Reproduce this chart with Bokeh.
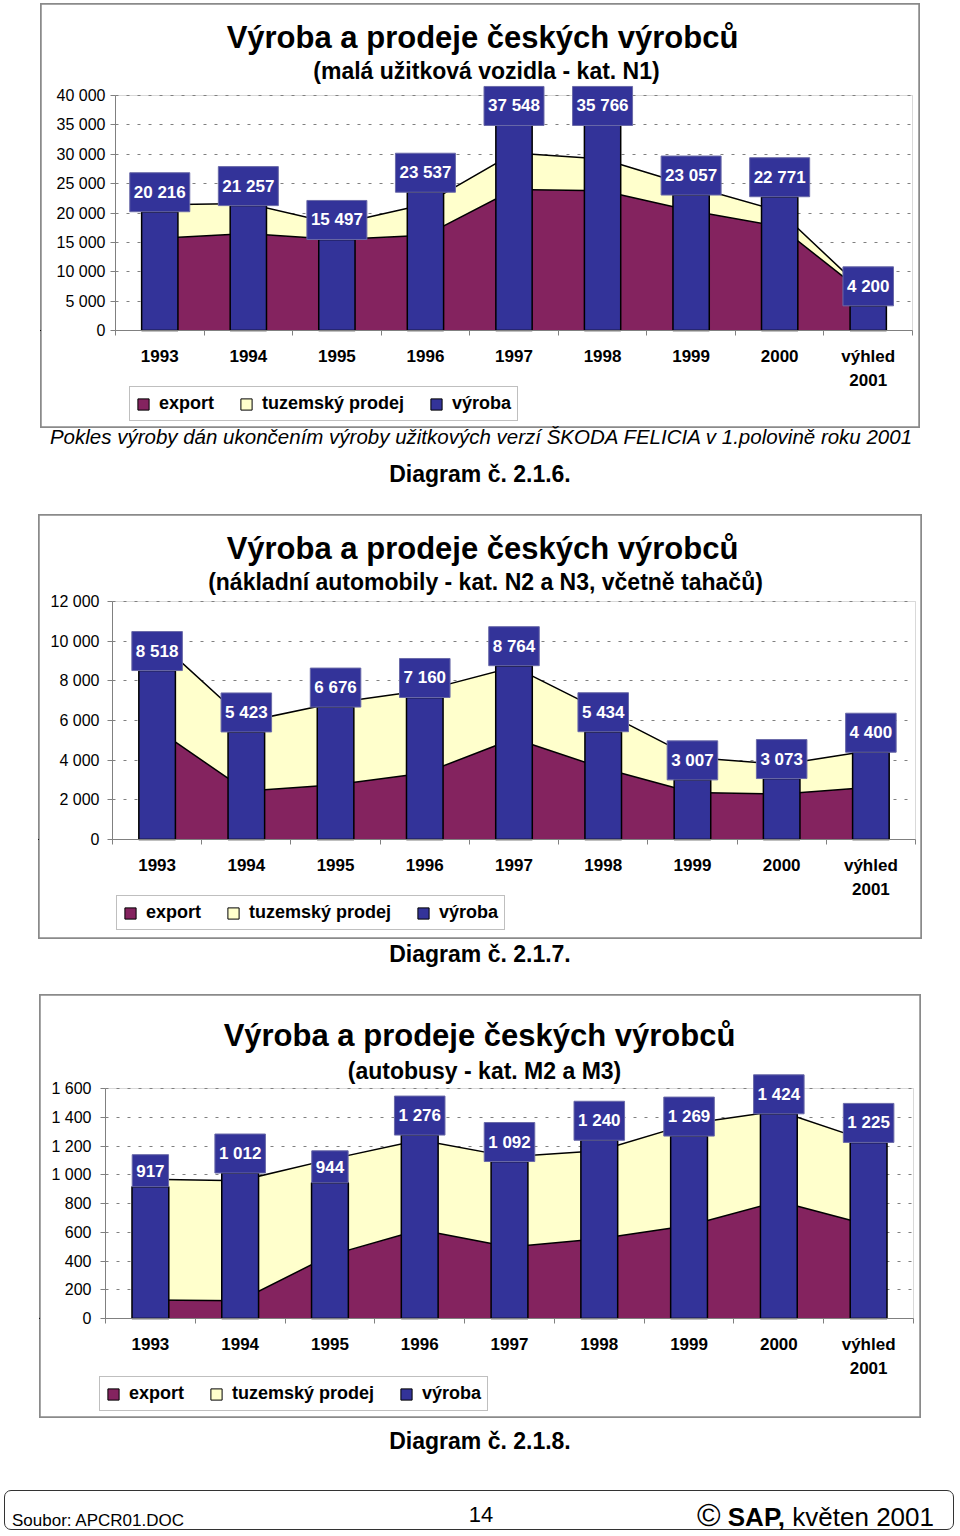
from bokeh.plotting import figure
from bokeh.models import (Range1d, FixedTicker, Label, Legend, LegendItem, Div, Spacer,
                          BoxAnnotation)
from bokeh.layouts import column, row
from bokeh.core.properties import value
from bokeh.embed import file_html
from bokeh.resources import INLINE

# ---------------- data ----------------
categories = ["1993", "1994", "1995", "1996", "1997", "1998", "1999", "2000", "výhled\n2001"]

n1_vyroba = [20216, 21257, 15497, 23537, 37548, 35766, 23057, 22771, 4200]
n1_export = [15700, 16500, 15500, 16200, 24000, 23800, 20400, 17700, 5800]
n1_tuzemsky = [5700, 5100, 2600, 5300, 6200, 5400, 4200, 2600, 300]
n1_ticks = [0, 5000, 10000, 15000, 20000, 25000, 30000, 35000, 40000]
n1_tick_labels = ["0", "5 000", "10 000", "15 000", "20 000", "25 000", "30 000", "35 000", "40 000"]

n23_vyroba = [8518, 5423, 6676, 7160, 8764, 5434, 3007, 3073, 4400]
n23_export = [5550, 2450, 2760, 3350, 5090, 3590, 2370, 2290, 2640]
n23_tuzemsky = [4500, 3500, 4140, 4170, 3610, 2860, 1770, 1490, 1850]
n23_ticks = [0, 2000, 4000, 6000, 8000, 10000, 12000]
n23_tick_labels = ["0", "2 000", "4 000", "6 000", "8 000", "10 000", "12 000"]

m23_vyroba = [917, 1012, 944, 1276, 1092, 1240, 1269, 1424, 1225]
m23_export = [128, 124, 439, 618, 497, 555, 647, 816, 650]
m23_tuzemsky = [841, 835, 668, 624, 629, 612, 707, 628, 584]
m23_ticks = [0, 200, 400, 600, 800, 1000, 1200, 1400, 1600]
m23_tick_labels = ["0", "200", "400", "600", "800", "1 000", "1 200", "1 400", "1 600"]

legend_labels = ["export", "tuzemský prodej", "výroba"]
main_title = "Výroba a prodeje českých výrobců"
subtitles = ["(malá užitková vozidla - kat. N1)",
             "(nákladní automobily - kat. N2 a N3, včetně tahačů)",
             "(autobusy - kat. M2 a M3)"]
note_text = "Pokles výroby dán ukončením výroby užitkových verzí ŠKODA FELICIA v 1.polovině roku 2001"
diagram_texts = ["Diagram č. 2.1.6.", "Diagram č. 2.1.7.", "Diagram č. 2.1.8."]

# ---------------- style ----------------
FONT = "Liberation Sans"
C_BAR = "#333399"
C_EXPORT = "#84235f"
C_DOM = "#ffffcc"
C_GRID = "#808080"


def fmt(v):
    return f"{v:,}".replace(",", " ")


def make_chart(cfg):
    bx, by, bw, bh = cfg["box"]          # chart box on the page
    fl, ft, fr, fb = cfg["frame"]        # plot area on the page
    n = len(categories)
    ymax = cfg["ticks"][-1]
    ux = (fr - fl) / n                   # px per category
    uy = (fb - ft) / ymax                # px per unit
    x_range = Range1d(-0.5 - (fl - bx) / ux, n - 0.5 + (bx + bw - fr) / ux)
    y_range = Range1d(-(by + bh - fb) / uy, ymax + (ft - by) / uy)

    p = figure(width=bw, height=bh, output_backend="svg", toolbar_location=None,
               x_range=x_range, y_range=y_range, min_border=0,
               background_fill_color="white", border_fill_color="white")
    p.outline_line_color = "#8a8a8a"
    p.outline_line_width = 2.5

    xs = list(range(n))
    export = cfg["export"]
    total = [a + b for a, b in zip(cfg["export"], cfg["dom"])]
    prod = cfg["prod"]

    # plot-area border
    p.add_layout(BoxAnnotation(left=-0.5, right=n - 0.5, bottom=0, top=ymax, fill_color=None,
                               line_color=C_GRID, line_width=1, level="underlay"))

    p.varea(x=xs, y1=[0] * n, y2=export, fill_color=C_EXPORT)
    p.varea(x=xs, y1=export, y2=total, fill_color=C_DOM)
    p.line(x=xs, y=export, line_color="black", line_width=1.5)
    p.line(x=xs, y=total, line_color="black", line_width=1.5)
    p.vbar(x=xs, top=prod, width=0.41, fill_color=C_BAR, line_color="black", line_width=1.5)

    cap = cfg.get("label_cap")
    base = [min(v, cap) if cap else v for v in prod]
    p.text(x=xs, y=base, text=[fmt(v) for v in prod], anchor="bottom_center",
           padding=(4, 10), background_fill_color=C_BAR, border_line_color="#6a6aa8",
           border_line_width=1, text_color="white", text_font=value(FONT),
           text_font_size="17px", text_font_style="bold")

    # axes placed at the plot-area edges
    xa = p.xaxis[0]
    xa.fixed_location = 0
    xa.bounds = (-0.5, n - 0.5)
    xa.ticker = FixedTicker(ticks=xs, minor_ticks=[x - 0.5 for x in xs] + [n - 0.5])
    xa.major_label_overrides = {x: c for x, c in zip(xs, categories)}
    xa.major_tick_line_color = None
    xa.major_tick_out = 0
    xa.minor_tick_out = 5
    xa.minor_tick_in = 0
    xa.minor_tick_line_color = C_GRID
    xa.axis_line_color = C_GRID
    xa.major_label_text_font = FONT
    xa.major_label_text_font_size = "17px"
    xa.major_label_text_font_style = "bold"
    xa.major_label_text_color = "black"
    xa.major_label_text_line_height = 1.3
    xa.major_label_standoff = 11

    ya = p.yaxis[0]
    ya.fixed_location = -0.5
    ya.bounds = (0, ymax)
    ya.ticker = FixedTicker(ticks=cfg["ticks"])
    ya.major_label_overrides = {t: l for t, l in zip(cfg["ticks"], cfg["tick_labels"])}
    ya.minor_tick_line_color = None
    ya.major_tick_out = 5
    ya.major_tick_in = 0
    ya.major_tick_line_color = C_GRID
    ya.axis_line_color = C_GRID
    ya.major_label_text_font = FONT
    ya.major_label_text_font_size = "16px"
    ya.major_label_text_color = "black"
    ya.major_label_standoff = cfg["ystand"]

    p.xgrid.visible = False
    g = p.ygrid[0]
    g.grid_line_color = C_GRID
    g.grid_line_dash = "3 8"
    g.grid_line_width = 1
    try:
        g.cross_bounds = (-0.5, n - 0.5)
    except Exception:
        g.visible = False
        gt = cfg["ticks"][1:-1]
        p.segment(x0=[-0.5] * len(gt), x1=[n - 0.5] * len(gt), y0=gt, y1=gt,
                  line_color=C_GRID, line_dash="3 8", line_width=1, level="underlay")

    # titles (screen units relative to the frame, which is the whole chart box)
    def put(px, py, text, size):
        p.add_layout(Label(x=px - bx, y=by + bh - py, x_units="screen", y_units="screen", text=text,
                           text_align="center", text_baseline="middle", text_font=FONT,
                           text_font_size=f"{size}px", text_font_style="bold", text_color="black"))
    tx, ty = cfg["title_at"]
    put(tx, ty, main_title, 31)
    sx, sy = cfg["sub_at"]
    put(sx, sy, cfg["subtitle"], 23)

    # legend (swatch renderers sit outside the visible range; they only feed the legend)
    items = []
    off = x_range.start - 50
    for name, col in zip(legend_labels, [C_EXPORT, C_DOM, C_BAR]):
        r = p.vbar(x=[off], top=[1], width=0.4, fill_color=col, line_color="black", line_width=1)
        items.append(LegendItem(label=name, renderers=[r]))
    lx, lb = cfg["legend_at"]
    leg = Legend(items=items, orientation="horizontal", location=(lx - bx, by + bh - lb),
                 margin=0, padding=6, spacing=25, label_standoff=9,
                 glyph_width=14, glyph_height=14, label_height=17,
                 border_line_color=C_GRID, border_line_width=1, background_fill_color="white",
                 label_text_font=FONT, label_text_font_size="18px", label_text_font_style="bold",
                 label_text_color="black")
    p.add_layout(leg)
    return row(Spacer(width=bx, height=bh, margin=0), p, margin=0, spacing=0)


charts = [
    dict(box=(40, 3, 880, 425), frame=(115, 95, 912, 330), ticks=n1_ticks, tick_labels=n1_tick_labels,
         prod=n1_vyroba, export=n1_export, dom=n1_tuzemsky, subtitle=subtitles[0],
         title_at=(482, 37), sub_at=(486, 70), legend_at=(129, 421), ystand=5, label_cap=34900),
    dict(box=(38, 514, 884, 425), frame=(112, 601, 915, 839), ticks=n23_ticks, tick_labels=n23_tick_labels,
         prod=n23_vyroba, export=n23_export, dom=n23_tuzemsky, subtitle=subtitles[1],
         title_at=(482, 548), sub_at=(485, 581), legend_at=(116, 930), ystand=8),
    dict(box=(39, 994, 882, 424), frame=(105, 1088, 913, 1318), ticks=m23_ticks, tick_labels=m23_tick_labels,
         prod=m23_vyroba, export=m23_export, dom=m23_tuzemsky, subtitle=subtitles[2],
         title_at=(479, 1035), sub_at=(484, 1070), legend_at=(99, 1411), ystand=9),
]

FF = "font-family:'Liberation Sans',Arial,sans-serif;"


def centered(cx, cy, text, size, weight="bold", style="normal", h=30):
    return (f'<div style="position:absolute;left:{cx - 480}px;width:960px;top:{cy - h / 2}px;height:{h}px;'
            f'line-height:{h}px;text-align:center;white-space:nowrap;{FF}'
            f'font-size:{size}px;font-weight:{weight};font-style:{style};color:#000;">{text}</div>')


def text_div(height, parts):
    html = f'<div style="position:relative;width:960px;height:{height}px;">{"".join(parts)}</div>'
    return Div(text=html, width=960, height=height, margin=0)


div1 = text_div(86, [centered(481, 9, note_text, 20.5, weight="normal", style="italic"),
                     centered(480, 46, diagram_texts[0], 23)])
div2 = text_div(55, [centered(480, 14.5, diagram_texts[1], 23)])
div3 = text_div(72, [centered(480, 23, diagram_texts[2], 23)])

footer_html = (
    '<div style="position:relative;width:960px;height:46px;">'
    '<div style="position:absolute;left:4px;top:0px;width:950px;height:40px;border:1.5px solid #333;border-radius:7px;"></div>'
    f'<div style="position:absolute;left:12px;top:21px;height:20px;line-height:20px;{FF}font-size:17px;color:#000;white-space:nowrap;">Soubor: APCR01.DOC</div>'
    f'<div style="position:absolute;left:431px;width:100px;top:11px;height:28px;line-height:28px;text-align:center;{FF}font-size:22px;color:#000;">14</div>'
    f'<div style="position:absolute;right:26px;top:9px;height:32px;line-height:32px;{FF}font-size:26px;color:#000;white-space:nowrap;">'
    '<span style="font-size:32px;">&copy;</span> <b>SAP,</b> květen 2001</div>'
    '</div>')
footer = Div(text=footer_html, width=960, height=46, margin=0)

layout = column(Spacer(width=960, height=3, margin=0), make_chart(charts[0]), div1,
                make_chart(charts[1]), div2, make_chart(charts[2]), div3, footer,
                spacing=0, margin=0,
                styles={"position": "absolute", "left": "0px", "top": "0px"})

open("out.html", "w").write(file_html(layout, INLINE))
